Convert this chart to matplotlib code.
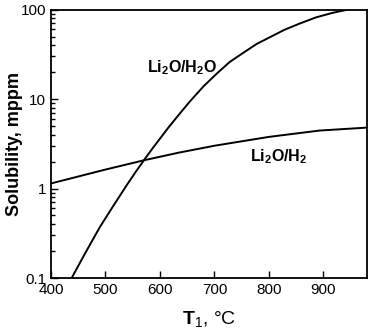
import matplotlib.pyplot as plt
import numpy as np

plt.rcParams['font.family'] = ['Liberation Sans', 'DejaVu Sans']
plt.rcParams['mathtext.fontset'] = 'custom'
plt.rcParams['mathtext.rm'] = 'Liberation Sans'
plt.rcParams['mathtext.bf'] = 'Liberation Sans:bold'

# Data
t_h2o = [438, 464, 490, 514, 539, 556, 572, 586, 600, 615, 636, 655, 680, 704,
         728, 752, 777, 801, 828, 856, 886, 916, 944, 965]
s_h2o = [0.1, 0.195, 0.373, 0.634, 1.09, 1.55, 2.13, 2.79, 3.61, 4.76, 6.84,
         9.42, 13.9, 19.2, 26.0, 32.6, 41.2, 48.9, 59.3, 69.7, 81.7, 91.8, 99.8, 104]

t_h2 = [400, 500, 572, 636, 700, 800, 893, 980]
s_h2 = [1.14, 1.63, 2.08, 2.53, 3.01, 3.78, 4.45, 4.8]

xticks = [400, 500, 600, 700, 800, 900]
yticks = [0.1, 1, 10, 100]
ylabels = ['0.1', '1', '10', '100']

fig = plt.figure(figsize=(3.8, 3.31), dpi=100)
ax = fig.add_axes([0.134, 0.160, 0.832, 0.811])

ax.plot(t_h2o, s_h2o, color='black', lw=1.4)
ax.plot(t_h2, s_h2, color='black', lw=1.4)

ax.set_yscale('log')
ax.set_xlim(400, 980)
ax.set_ylim(0.1, 100)
ax.set_xticks(xticks)
ax.set_yticks(yticks)
ax.set_yticklabels(ylabels)

ax.tick_params(which='major', direction='in', length=5, width=1.0, labelsize=11)
ax.tick_params(which='minor', direction='in', length=3, width=1.0)
ax.tick_params(axis='x', which='minor', bottom=False)
for s in ax.spines.values():
    s.set_linewidth(1.3)

ax.set_ylabel('Solubility, mppm', fontsize=13, fontweight='bold')
ax.yaxis.set_label_coords(-0.088, 0.5)
ax.set_xlabel(r'$\mathbf{T}_{1}$, °C', fontsize=14, labelpad=9)

# labels placed in pixel coords (from top of picture)
ax.text(147, 331 - 68, r'$\mathbf{Li_{2}O/H_{2}O}$', transform=None, fontsize=11.5, va='center')
ax.text(250, 331 - 157, r'$\mathbf{Li_{2}O/H_{2}}$', transform=None, fontsize=11.5, va='center')

plt.savefig('out.png', dpi=100)
